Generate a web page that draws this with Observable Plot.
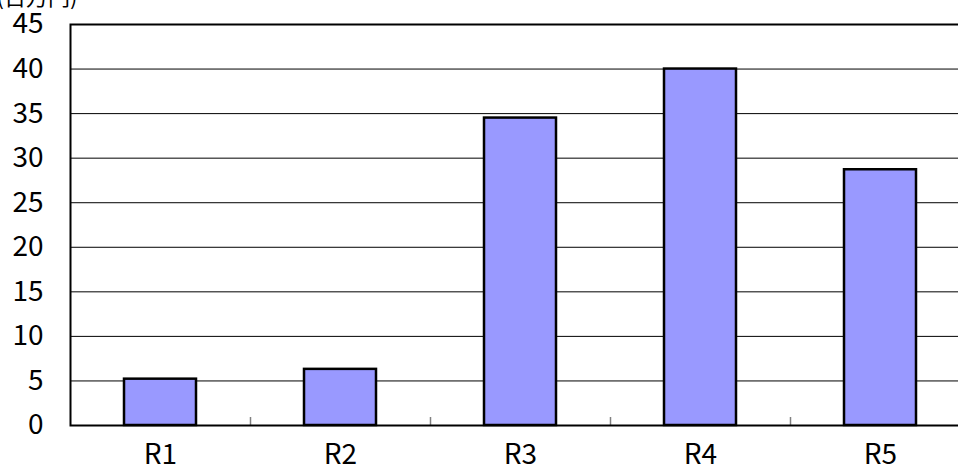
<!DOCTYPE html>
<html>
<head>
<meta charset="utf-8">
<script src="https://cdn.jsdelivr.net/npm/d3@7"></script>
<script src="https://cdn.jsdelivr.net/npm/@observablehq/plot@0.6"></script>
<style>
  html, body { margin: 0; padding: 0; background: #fff; overflow: hidden; }
</style>
</head>
<body>
<div id="chart"></div>
<script>
const categories = ["R1", "R2", "R3", "R4", "R5"];
const values = [5.2, 6.3, 34.5, 40.0, 28.7];
const yTicks = [0, 5, 10, 15, 20, 25, 30, 35, 40, 45];
const gridValues = [5, 10, 15, 20, 25, 30, 35, 40];
const unitLabel = "(百万円)";

const data = categories.map((c, i) => ({category: c, value: values[i]}));
const font = "'Noto Sans CJK JP', 'Noto Sans', sans-serif";

const chart = Plot.plot({
  width: 980,
  height: 473,
  marginLeft: 70,
  marginRight: 10,
  marginTop: 24,
  marginBottom: 48,
  style: {fontFamily: font, fontSize: "28px", color: "#000", background: "#fff", maxWidth: "none", overflow: "visible"},
  x: {domain: categories, paddingInner: 0.6, paddingOuter: 0.3, label: null},
  y: {domain: [0, 45], label: null},
  marks: [
    Plot.ruleY(gridValues, {stroke: "#000", strokeWidth: 1}),
    Plot.barY(data, {x: "category", y: "value", fill: "#9999ff", stroke: "#000", strokeWidth: 2.5}),
    Plot.ruleX(categories.slice(1), {x: d => d, y1: 0, y2: 0.9, dx: -90, stroke: "#808080", strokeWidth: 1.5}),
    Plot.frame({stroke: "#000", strokeWidth: 2}),
    Plot.axisY({ticks: yTicks, tickSize: 0, tickPadding: 27, fontSize: 28, label: null}),
    Plot.axisX({tickSize: 0, tickPadding: 19, fontSize: 28, label: null}),
    Plot.text([unitLabel], {frameAnchor: "top-left", dx: -74, dy: -20, textAnchor: "start", lineAnchor: "bottom", fontSize: 22})
  ]
});
document.getElementById("chart").appendChild(chart);
</script>
</body>
</html>
